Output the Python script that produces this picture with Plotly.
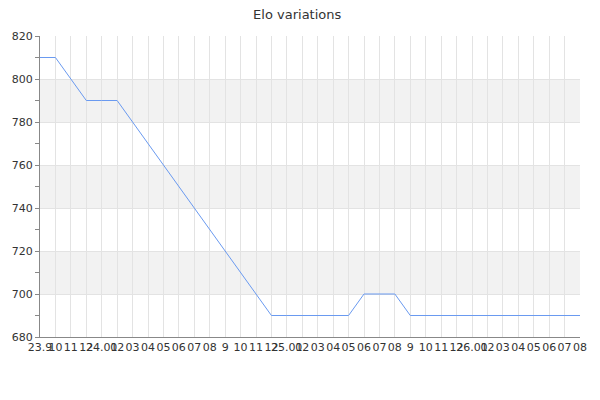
"""Elo variations line chart (plotly)."""

import plotly.graph_objects as go

# monthly points, Sep 2023 -> Aug 2026
months = [
    "2023-09", "2023-10", "2023-11", "2023-12",
    "2024-01", "2024-02", "2024-03", "2024-04", "2024-05", "2024-06",
    "2024-07", "2024-08", "2024-09", "2024-10", "2024-11", "2024-12",
    "2025-01", "2025-02", "2025-03", "2025-04", "2025-05", "2025-06",
    "2025-07", "2025-08", "2025-09", "2025-10", "2025-11", "2025-12",
    "2026-01", "2026-02", "2026-03", "2026-04", "2026-05", "2026-06",
    "2026-07", "2026-08",
]
elo = [
    810, 810, 800, 790,
    790, 790, 780, 770, 760, 750,
    740, 730, 720, 710, 700, 690,
    690, 690, 690, 690, 690, 700,
    700, 700, 690, 690, 690, 690,
    690, 690, 690, 690, 690, 690,
    690, 690,
]
tick_labels = [
    "23.9", "10", "11", "12",
    "24.01", "02", "03", "04", "05", "06", "07", "08", "9", "10", "11", "12",
    "25.01", "02", "03", "04", "05", "06", "07", "08", "9", "10", "11", "12",
    "26.01", "02", "03", "04", "05", "06", "07", "08",
]
y_bands = [(700, 720), (740, 760), (780, 800)]

_FONT = "#333333"
_GRID = "#e3e3e3"
_AXIS = "#888888"
_BAND = "#f2f2f2"

fig = go.Figure(go.Scatter(
    x=months, y=elo, mode="lines", name="Elo",
    line=dict(color="#6a9af0", width=1),
    hovertemplate="%{x}: %{y}<extra></extra>",
))

# alternating grey bands behind the plot
for lo, hi in y_bands:
    fig.add_shape(
        type="rect", xref="paper", yref="y", x0=0, x1=1, y0=lo, y1=hi,
        fillcolor=_BAND, line=dict(width=0), layer="below",
    )

# margins account for the 8px body margin of the html page
fig.update_layout(
    width=600, height=400,
    paper_bgcolor="white", plot_bgcolor="white",
    font=dict(family="DejaVu Sans, sans-serif", size=11, color=_FONT),
    title=dict(text="Elo variations", x=0.482, xanchor="center",
               y=0.995, yanchor="top", font=dict(size=13, color=_FONT)),
    margin=dict(l=32, r=28, t=28, b=71),
    showlegend=False,
)
fig.update_xaxes(
    type="category", range=[0, len(months) - 1],
    tickmode="array", tickvals=months, ticktext=tick_labels, tickangle=0,
    showgrid=True, gridcolor=_GRID, gridwidth=1,
    showline=True, linecolor=_AXIS, linewidth=1,
    ticks="", zeroline=False, automargin=False,
)
fig.update_yaxes(
    range=[680, 820], dtick=20, tick0=680,
    showgrid=True, gridcolor=_GRID, gridwidth=1,
    showline=True, linecolor=_AXIS, linewidth=1,
    ticks="outside", ticklen=4, tickcolor=_AXIS,
    minor=dict(dtick=10, ticks="outside", ticklen=4, tickcolor=_AXIS, showgrid=False),
    zeroline=False, automargin=False,
)

fig.write_html("out.html")
